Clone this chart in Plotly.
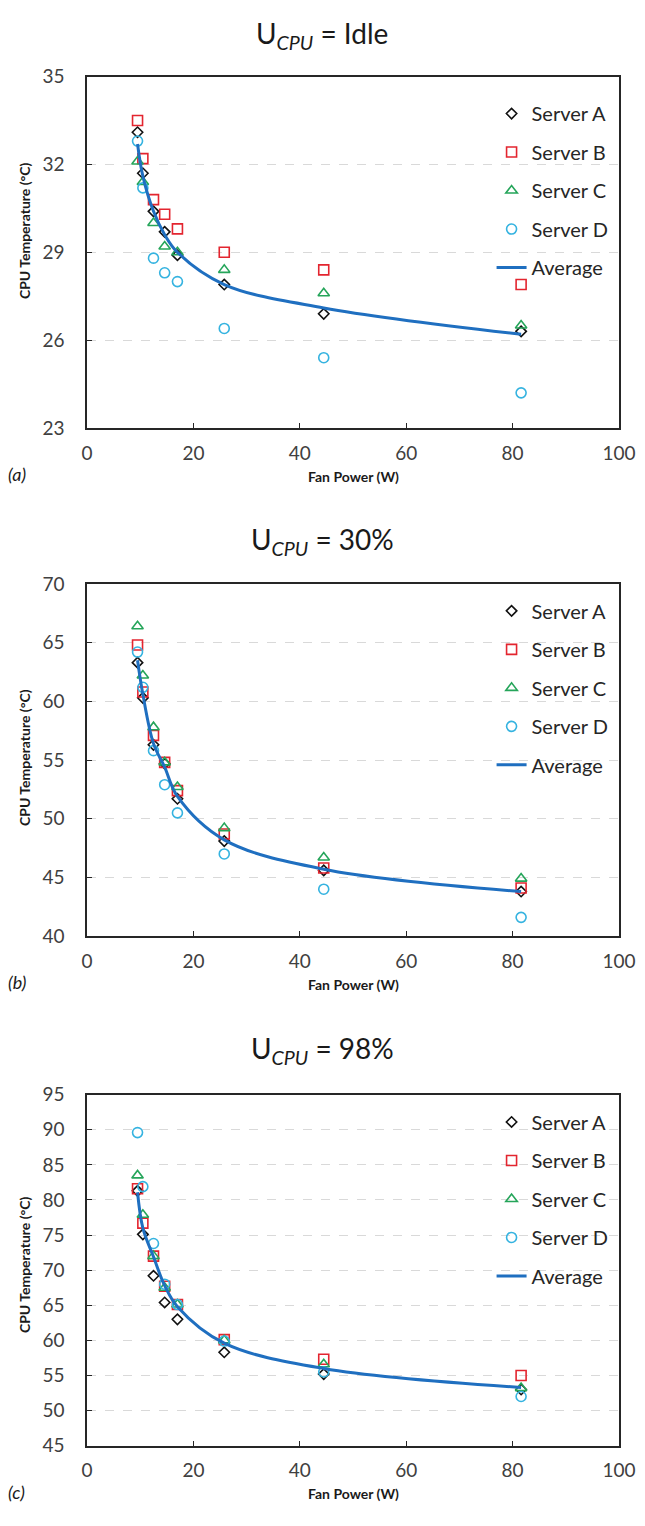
import plotly.graph_objects as go

# ---------------- data ----------------
fan_power = [9.5, 10.5, 12.5, 14.6, 17.0, 25.8, 44.5, 81.6]

# (a) U_CPU = Idle
idle_a = [33.1, 31.7, 30.4, 29.7, 28.9, 27.9, 26.9, 26.3]
idle_b = [33.5, 32.2, 30.8, 30.3, 29.8, 29.0, 28.4, 27.9]
idle_c = [32.1, 31.4, 30.0, 29.2, 29.0, 28.4, 27.6, 26.5]
idle_d = [32.8, 31.2, 28.8, 28.3, 28.0, 26.4, 25.4, 24.2]
idle_avg = [32.7, 31.6, 30.4, 29.6, 29.0, 27.9, 27.1, 26.2]

# (b) U_CPU = 30%
u30_a = [63.3, 60.3, 56.3, 54.7, 51.7, 48.1, 45.6, 43.8]
u30_b = [64.8, 60.8, 57.1, 54.8, 52.4, 48.7, 45.8, 44.1]
u30_c = [66.4, 62.2, 57.8, 54.8, 52.7, 49.2, 46.7, 44.9]
u30_d = [64.2, 61.2, 55.8, 52.9, 50.5, 47.0, 44.0, 41.6]
u30_avg = [63.5, 60.6, 56.4, 54.4, 51.9, 48.2, 45.7, 43.8]

# (c) U_CPU = 98%
u98_a = [81.3, 75.1, 69.2, 65.4, 63.0, 58.3, 55.2, 53.0]
u98_b = [81.6, 76.7, 72.0, 67.7, 65.1, 60.1, 57.3, 55.0]
u98_c = [83.5, 77.9, 72.0, 67.5, 65.1, 60.0, 56.6, 53.2]
u98_d = [89.6, 81.9, 73.8, 68.0, 65.1, 59.9, 55.5, 52.0]
u98_avg = [81.1, 76.0, 71.9, 67.8, 64.8, 59.6, 56.0, 53.3]

server_names = ["Server A", "Server B", "Server C", "Server D"]
panel_titles = ["U<sub><i>CPU</i></sub> = Idle", "U<sub><i>CPU</i></sub> = 30%", "U<sub><i>CPU</i></sub> = 98%"]
panel_letters = ["(a)", "(b)", "(c)"]
y_ranges = [[23, 35], [40, 70], [45, 95]]
y_dticks = [3, 5, 5]
x_ticks = [0, 20, 40, 60, 80, 100]

# ---------------- styling ----------------
# the page body has an 8px margin: the figure is drawn 8px right/down of the page origin
OFF = 8
W, H = 637, 1510
PAGE_LEFT, PAGE_RIGHT = 86.7, 619.0          # plot-area x extent on the page
ML = PAGE_LEFT - OFF
MR = W - (PAGE_RIGHT - OFF)
PW = W - ML - MR
FONT = "Lato, Calibri, 'Open Sans', sans-serif"
# plot-area page extents (top, bottom) for each panel
panel_px = [(65.5, 422.3), (580.7, 938.3), (1099.3, 1455.7)]
legend_first_px = [102.7, 607.7, 1126.7]
title_off = [42.5, 44, 45]
ytitle_px = [222, 757, 1272]

styles = [
    dict(symbol="diamond-open", color="#111111", size=8),
    dict(symbol="square-open", color="#e3252f", size=10),
    dict(symbol="triangle-up-open", color="#25a55a", size=10),
    dict(symbol="circle-open", color="#35b3e0", size=10),
]
avg_color = "#1f6fc0"


def py(page_y):
    return 1 - (page_y - OFF) / H


def pxx(page_x):
    return (page_x - OFF - ML) / PW


fig = go.Figure()
series = [
    (idle_a, idle_b, idle_c, idle_d, idle_avg),
    (u30_a, u30_b, u30_c, u30_d, u30_avg),
    (u98_a, u98_b, u98_c, u98_d, u98_avg),
]

annotations = []
for i, data in enumerate(series):
    n = i + 1
    xa = "x" if n == 1 else f"x{n}"
    ya = "y" if n == 1 else f"y{n}"
    lg = "legend" if n == 1 else f"legend{n}"
    for j, name in enumerate(server_names):
        st = styles[j]
        fig.add_trace(go.Scatter(
            x=fan_power, y=data[j], mode="markers", name=name,
            xaxis=xa, yaxis=ya, legend=lg, legendgroup=f"{n}{j}",
            marker=dict(symbol=st["symbol"], color=st["color"], size=st["size"],
                        line=dict(width=1.6, color=st["color"])),
            cliponaxis=False,
        ))
    fig.add_trace(go.Scatter(
        x=fan_power, y=data[4], mode="lines", name="Average",
        xaxis=xa, yaxis=ya, legend=lg, legendgroup=f"{n}avg",
        line=dict(color=avg_color, width=3, shape="spline", smoothing=1.0),
    ))

    top, bot = panel_px[i]
    dom = [py(bot), py(top)]
    axis_common = dict(
        showline=True, linecolor="#262626", linewidth=1.5, mirror=True,
        ticks="inside", ticklen=5, tickcolor="#262626", tickwidth=1,
        tickfont=dict(family=FONT, size=19, color="#404040"),
        zeroline=False,
    )
    fig.update_layout(**{
        ("xaxis" if n == 1 else f"xaxis{n}"): dict(
            range=[0, 100], tickvals=x_ticks, showgrid=False,
            anchor=ya, domain=[0, 1], ticklabelstandoff=7, **axis_common),
        ("yaxis" if n == 1 else f"yaxis{n}"): dict(
            range=y_ranges[i], dtick=y_dticks[i], tick0=y_ranges[i][0],
            showgrid=True, gridcolor="#d9d9d9", griddash="dash", gridwidth=1,
            anchor=xa, domain=dom, ticklabelstandoff=17, **axis_common),
        lg: dict(
            x=pxx(491.5), y=py(legend_first_px[i] - 19.5), xanchor="left", yanchor="top",
            bgcolor="rgba(0,0,0,0)", tracegroupgap=9.5,
            font=dict(family=FONT, size=20, color="#262626"),
            traceorder="grouped",
        ),
    })

    # title
    annotations.append(dict(
        text=panel_titles[i], xref="paper", yref="paper",
        x=pxx(322), y=py(top - title_off[i]), xanchor="center", yanchor="middle",
        showarrow=False, font=dict(family=FONT, size=28, color="#1a1a1a")))
    # x-axis title
    annotations.append(dict(
        text="<b>Fan Power (W)</b>", xref="paper", yref="paper",
        x=pxx(353), y=py(bot + 49), xanchor="center", yanchor="middle",
        showarrow=False, font=dict(family=FONT, size=14, color="#1a1a1a")))
    # y-axis title
    annotations.append(dict(
        text="<b>CPU Temperature (°C)</b>", xref="paper", yref="paper",
        x=pxx(24), y=py(ytitle_px[i]), xanchor="center", yanchor="middle",
        textangle=-90, showarrow=False,
        font=dict(family=FONT, size=14, color="#1a1a1a")))
    # panel label
    annotations.append(dict(
        text=f"<i>{panel_letters[i]}</i>", xref="paper", yref="paper",
        x=pxx(6), y=py(bot + 47), xanchor="left", yanchor="middle",
        showarrow=False, font=dict(family=FONT, size=18, color="#1a1a1a")))

fig.update_layout(
    width=W, height=H,
    margin=dict(l=ML, r=MR, t=0, b=0),
    paper_bgcolor="white", plot_bgcolor="white",
    annotations=annotations,
    showlegend=True,
)

fig.write_html("out.html")
